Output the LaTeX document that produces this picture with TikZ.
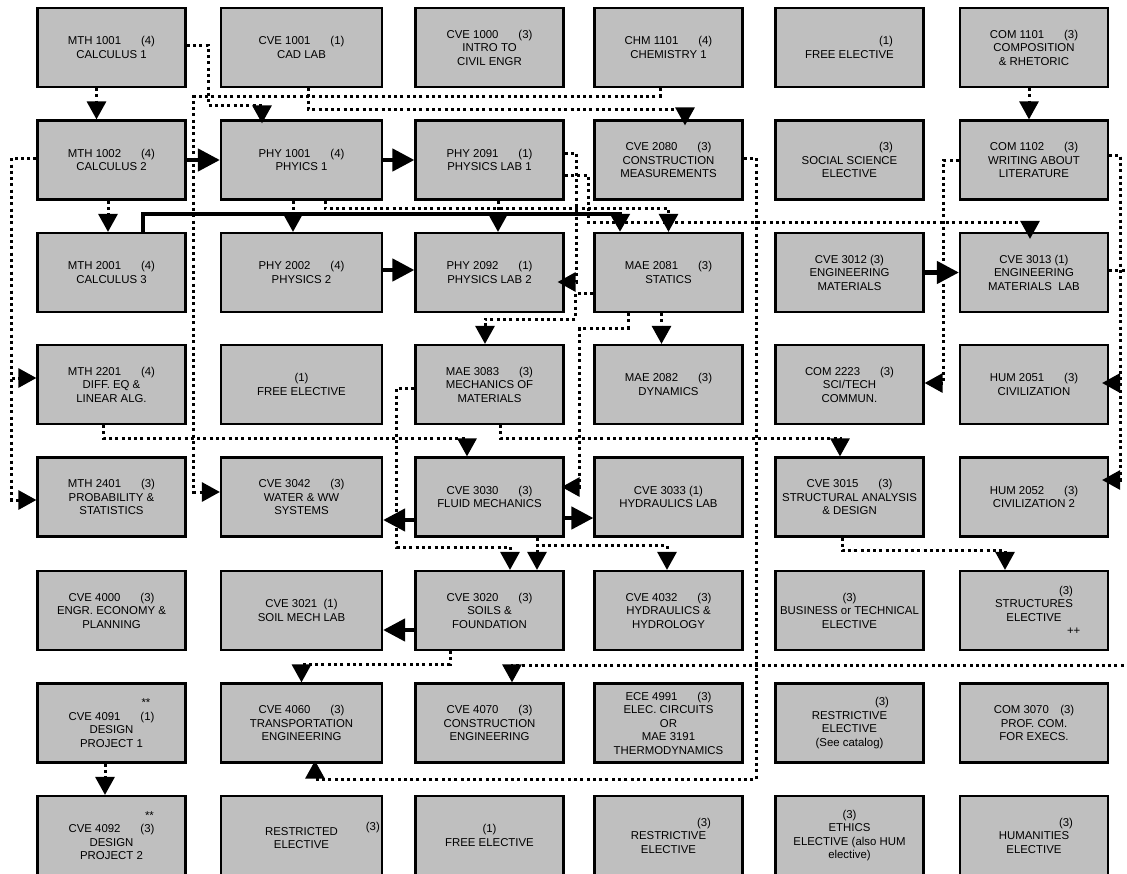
\documentclass[tikz,border=0pt]{standalone}
\usepackage{fontspec}
\setmainfont{Liberation Sans}
\usetikzlibrary{arrows.meta}
\newcommand{\cgap}{\hspace{1.75em}}
\newcommand{\offmark}[2]{\makebox[0pt][l]{\hspace{#1}#2}}
\tikzset{
  course/.style={draw, line width=2.2pt, fill=gray!50, minimum width=148pt,
    minimum height=79pt, inner sep=1pt, align=center,
    font=\fontsize{11.4}{13.5}\selectfont},
  wide/.style={minimum width=161pt},
  prereq/.style={line width=3pt, dash pattern=on 3pt off 3.3pt,
    -{Triangle[width=19pt,length=18pt]}},
  coreq/.style={line width=4.5pt, -{Triangle[width=22pt,length=22pt]}}
}
\begin{document}
\begin{tikzpicture}[x=1pt,y=-1pt]
      \useasboundingbox (0,0) rectangle (1127,873);
      \fill[white] (0,0) rectangle (1127,873);
      \node[course] (mth1001) at (111.5,47.5) {MTH 1001\cgap(4)\\CALCULUS 1};
      \node[course,wide] (cve1001) at (301.5,47.5) {CVE 1001\cgap(1)\\CAD LAB};
      \node[course] (cve1000) at (489.5,47.5) {CVE 1000\cgap(3)\\INTRO TO\\CIVIL ENGR};
      \node[course] (chm1101) at (668.5,47.5) {CHM 1101\cgap(4)\\CHEMISTRY 1};
      \node[course] (free1) at (849.5,47.5) {\offmark{29.5pt}{(1)}\\FREE ELECTIVE};
      \node[course] (com1101) at (1034,47.5) {COM 1101\cgap(3)\\COMPOSITION\\\& RHETORIC};
      \node[course] (mth1002) at (111.5,160) {MTH 1002\cgap(4)\\CALCULUS 2};
      \node[course,wide] (phy1001) at (301.5,160) {PHY 1001\cgap(4)\\PHYICS 1};
      \node[course] (phy2091) at (489.5,160) {PHY 2091\cgap(1)\\PHYSICS LAB 1};
      \node[course] (cve2080) at (668.5,160) {CVE 2080\cgap(3)\\CONSTRUCTION\\MEASUREMENTS};
      \node[course] (socsci) at (849.5,160) {\offmark{29.5pt}{(3)}\\SOCIAL SCIENCE\\ELECTIVE};
      \node[course] (com1102) at (1034,160) {COM 1102\cgap(3)\\WRITING ABOUT\\LITERATURE};
      \node[course] (mth2001) at (111.5,272.5) {MTH 2001\cgap(4)\\CALCULUS 3};
      \node[course,wide] (phy2002) at (301.5,272.5) {PHY 2002\cgap(4)\\PHYSICS 2};
      \node[course] (phy2092) at (489.5,272.5) {PHY 2092\cgap(1)\\PHYSICS LAB 2};
      \node[course] (mae2081) at (668.5,272.5) {MAE 2081\cgap(3)\\STATICS};
      \node[course] (cve3012) at (849.5,272.5) {CVE 3012 (3)\\ENGINEERING\\MATERIALS};
      \node[course] (cve3013) at (1034,272.5) {CVE 3013 (1)\\ENGINEERING\\MATERIALS\ \ LAB};
      \node[course] (mth2201) at (111.5,384.5) {MTH 2201\cgap(4)\\DIFF. EQ \&\\LINEAR ALG.};
      \node[course,wide] (free2) at (301.5,384.5) {(1)\\FREE ELECTIVE};
      \node[course] (mae3083) at (489.5,384.5) {MAE 3083\cgap(3)\\MECHANICS OF\\MATERIALS};
      \node[course] (mae2082) at (668.5,384.5) {MAE 2082\cgap(3)\\DYNAMICS};
      \node[course] (com2223) at (849.5,384.5) {COM 2223\cgap(3)\\SCI/TECH\\COMMUN.};
      \node[course] (hum2051) at (1034,384.5) {HUM 2051\cgap(3)\\CIVILIZATION};
      \node[course] (mth2401) at (111.5,497) {MTH 2401\cgap(3)\\PROBABILITY \&\\STATISTICS};
      \node[course,wide] (cve3042) at (301.5,497) {CVE 3042\cgap(3)\\WATER \& WW\\SYSTEMS};
      \node[course] (cve3030) at (489.5,497) {CVE 3030\cgap(3)\\FLUID MECHANICS};
      \node[course] (cve3033) at (668.5,497) {CVE 3033 (1)\\HYDRAULICS LAB};
      \node[course] (cve3015) at (849.5,497) {CVE 3015\cgap(3)\\STRUCTURAL ANALYSIS\\\& DESIGN};
      \node[course] (hum2052) at (1034,497) {HUM 2052\cgap(3)\\CIVILIZATION 2};
      \node[course] (cve4000) at (111.5,610.5) {CVE 4000\cgap(3)\\ENGR. ECONOMY \&\\PLANNING};
      \node[course,wide] (cve3021) at (301.5,610.5) {CVE 3021\ \ (1)\\SOIL MECH LAB};
      \node[course] (cve3020) at (489.5,610.5) {CVE 3020\cgap(3)\\SOILS \&\\FOUNDATION};
      \node[course] (cve4032) at (668.5,610.5) {CVE 4032\cgap(3)\\HYDRAULICS \&\\HYDROLOGY};
      \node[course] (bustech) at (849.5,610.5) {(3)\\BUSINESS or TECHNICAL\\ELECTIVE};
      \node[course] (strucel) at (1034,610.5) {\offmark{25pt}{(3)}\\STRUCTURES\\ELECTIVE\\\offmark{33pt}{++}};
      \node[course] (cve4091) at (111.5,723) {\offmark{30pt}{**}\\CVE 4091\cgap(1)\\DESIGN\\PROJECT 1};
      \node[course,wide] (cve4060) at (301.5,723) {CVE 4060\cgap(3)\\TRANSPORTATION\\ENGINEERING};
      \node[course] (cve4070) at (489.5,723) {CVE 4070\cgap(3)\\CONSTRUCTION\\ENGINEERING};
      \node[course] (ece4991) at (668.5,723) {ECE 4991\cgap(3)\\ELEC. CIRCUITS\\OR\\MAE 3191\\THERMODYNAMICS};
      \node[course] (restr1) at (849.5,723) {\offmark{25.5pt}{(3)}\\RESTRICTIVE\\ELECTIVE\\(See catalog)};
      \node[course] (com3070) at (1034,723) {COM 3070\hspace{1em}(3)\\PROF. COM.\\FOR EXECS.};
      \node[course] (cve4092) at (111.5,835.5) {\offmark{33.5pt}{**}\\CVE 4092\cgap(3)\\DESIGN\\PROJECT 2};
      \node[course,wide] (restr2) at (301.5,835.5) {RESTRICTED\makebox[0pt][l]{\hspace{28pt}\raisebox{5pt}{(3)}}\\ELECTIVE};
      \node[course] (free3) at (489.5,835.5) {(1)\\FREE ELECTIVE};
      \node[course] (restr3) at (668.5,835.5) {\offmark{28.5pt}{(3)}\\RESTRICTIVE\\ELECTIVE};
      \node[course] (ethics) at (849.5,835.5) {(3)\\ETHICS\\ELECTIVE (also HUM\\elective)};
      \node[course] (humel) at (1034,835.5) {\offmark{25pt}{(3)}\\HUMANITIES\\ELECTIVE};
      \draw[prereq] ([xshift=-15]mth1001.south) -- ([xshift=-15]mth1002.north);
      \draw[prereq,shorten >=-4pt] ([yshift=2.5]mth1001.east) -- ++(21.5,0) -- ++(0,60) -| ([xshift=-39.5]phy1001.north);
      \draw[prereq,shorten >=-6pt] ([xshift=6.5]cve1001.south) -- ++(0,21) -| ([xshift=16.5]cve2080.north);
      \draw[prereq] ([xshift=-8.5]chm1101.south) -- ++(0,8) -| ([xshift=-26,yshift=5]cve3042.west) -- ([yshift=5]cve3042.west);
      \draw[prereq] ([xshift=-5]com1101.south) -- ([xshift=-5]com1102.north);
      \draw[coreq] (mth1002.east) -- (phy1001.west);
      \draw[coreq] (phy1001.east) -- (phy2091.west);
      \draw[prereq] ([xshift=-3.5]mth1002.south) -- ([xshift=-3.5]mth2001.north);
      \draw[prereq] ([yshift=2]mth1002.west) -- ++(-25,0) |- ([yshift=6.5]mth2201.west);
      \draw[prereq] ([yshift=2]mth1002.west) -- ++(-25,0) |- ([yshift=-3]mth2401.west);
      \draw[coreq,-{Triangle[width=19pt,length=18pt]}] ([xshift=31.5]mth2001.north) -- ++(0,-18) -| ([xshift=-48.5]mae2081.north);
      \draw[prereq] ([xshift=-8.5]phy1001.south) -- ([xshift=-8.5]phy2002.north);
      \draw[prereq] ([xshift=23.5]phy1001.south) -- ++(0,8) -| (mae2081.north);
      \draw[prereq] ([xshift=8.5]phy2091.south) -- ([xshift=8.5]phy2092.north);
      \draw[prereq,shorten >=-7pt] ([yshift=7]phy2091.east) -- ++(12,0) |- ([yshift=-9.5]phy2092.east);
      \draw[prereq,shorten >=-7pt] ([yshift=-15]phy2091.east) -- ++(23.5,0) -- ++(0,47) -| ([xshift=-4]cve3013.north);
      \draw[prereq,shorten >=-3pt] ([yshift=2]cve2080.east) -- ++(12.5,0) -- ++(0,621) -| ([xshift=13.5]cve4060.south);
      \draw[prereq] (com1102.west) -- ++(-15,0) |- ([yshift=1.5]com2223.east);
      \draw[prereq,shorten >=-7pt] ([yshift=5]com1102.east) -- ++(11,0) |- ([yshift=1.5]hum2051.east);
      \draw[prereq,shorten >=-7pt] ([yshift=5]com1102.east) -- ++(11,0) |- ([yshift=17]hum2052.east);
      \draw[coreq] ([yshift=2.5]phy2002.east) -- ([yshift=2.5]phy2092.west);
      \draw[coreq] (cve3012.east) -- (cve3013.west);
      \draw[prereq] ([xshift=-7]mae2081.south) -- ([xshift=-7]mae2082.north);
      \draw[prereq] ([yshift=-20.5]mae2081.west) -- ++(-18,0) -- ++(0,26) -| ([xshift=-4.5]mae3083.north);
      \draw[prereq,shorten >=-3pt] ([xshift=-40.5]mae2081.south) -- ++(0,15) -| ([xshift=15,yshift=10]cve3030.east) -- ([yshift=10]cve3030.east);
      \draw[prereq] ([xshift=-8.5]mth2201.south) -- ++(0,13) -| ([xshift=-22.5]cve3030.north);
      \draw[prereq] ([xshift=10.5]mae3083.south) -- ++(0,13) -| ([xshift=-9.5]cve3015.north);
      \draw[prereq] ([yshift=-3.5]mae3083.west) -- ++(-17.5,0) -- ++(0,159) -| ([xshift=20.5]cve3020.north);
      \draw[coreq] ([yshift=-23]cve3030.west) -- ([yshift=-23]cve3042.east);
      \draw[coreq] ([yshift=-21]cve3030.east) -- ([yshift=-21]cve3033.west);
      \draw[prereq] ([xshift=47.5]cve3030.south) -- ([xshift=47.5]cve3020.north);
      \draw[prereq] ([xshift=47.5]cve3030.south) -- ++(0,8) -| ([xshift=-1.5]cve4032.north);
      \draw[prereq] ([xshift=-7.5]cve3015.south) -- ++(0,13) -| ([xshift=-29]strucel.north);
      \draw[coreq] ([yshift=-19.5]cve3020.west) -- ([yshift=-19.5]cve3021.east);
      \draw[prereq] ([xshift=-39.5]cve3020.south) -- ++(0,13) -| (cve4060.north);
      \draw[prereq] ([yshift=2.5]cve3013.east) -- ++(24,0) -- ++(0,395) -| ([xshift=22.5]cve4070.north);
      \draw[prereq] ([xshift=-6.5]cve4091.south) -- ([xshift=-6.5]cve4092.north);
    \end{tikzpicture}
\end{document}
